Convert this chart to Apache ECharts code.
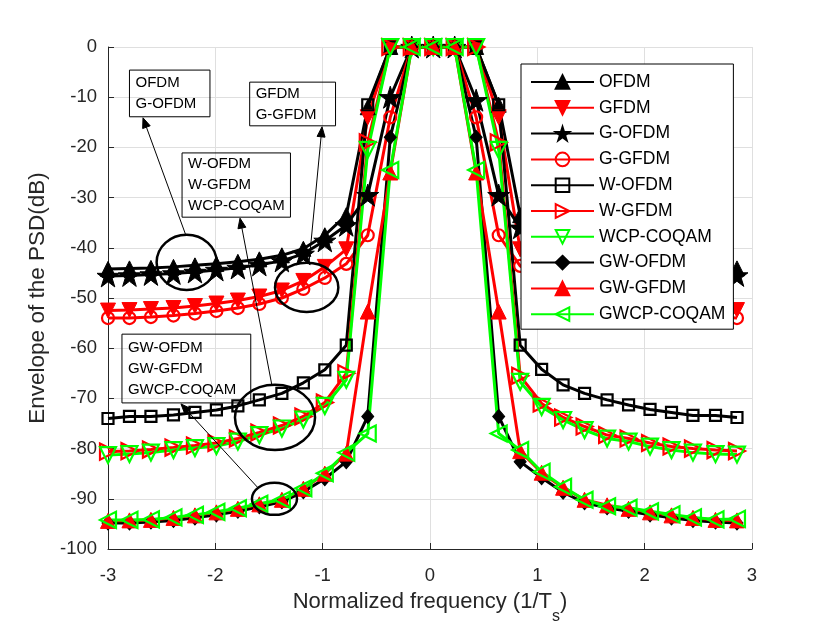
<!DOCTYPE html>
<html>
<head>
<meta charset="utf-8">
<title>PSD</title>
<script src="https://cdn.jsdelivr.net/npm/echarts@6/dist/echarts.min.js"></script>
<style type="text/css">
    html, body { margin: 0; padding: 0; background: #fff; }
    #psd { width: 830px; height: 623px; }
</style>
</head>
<body>
<div id="psd"></div>
<script type="text/javascript">
    // normalized frequency of every marker
    var freq = [-3.00, -2.80, -2.60, -2.39, -2.19, -1.99, -1.79, -1.59, -1.38, -1.18,
                -0.98, -0.78, -0.58, -0.37, -0.17, 0.03, 0.23, 0.43, 0.64, 0.84,
                1.04, 1.24, 1.44, 1.65, 1.85, 2.05, 2.25, 2.45, 2.66, 2.86];

    // PSD envelopes (dB)
    var ofdm = [-44.2, -44.1, -44.0, -43.8, -43.5, -43.2, -42.8, -42.3, -41.5, -40.2, -37.5, -33.5, -12, 0, 0,
                0, 0, 0, -11.5, -33.5, -37.5, -40.2, -41.5, -42.3, -42.8, -43.2, -43.5, -43.8, -44.0, -44.1];
    var gfdm = [-52.5, -52.4, -52.2, -52.0, -51.6, -51.1, -50.5, -49.7, -48.5, -46.6, -43.8, -40.3, -14, 0, 0,
                0, 0, 0, -14, -40.3, -43.8, -46.6, -48.5, -49.7, -50.5, -51.1, -51.6, -52.0, -52.2, -52.4];
    var gOfdm = [-45.6, -45.5, -45.3, -45.1, -44.8, -44.4, -44.0, -43.4, -42.6, -41.2, -38.6, -35.5, -29.5, -10, 0,
                 0, 0, -10.6, -29.5, -36, -38.6, -41.2, -42.6, -43.4, -44.0, -44.4, -44.8, -45.1, -45.3, -45.5];
    var gGfdm = [-54.0, -54.0, -53.8, -53.5, -53.1, -52.6, -52.0, -51.2, -50.0, -48.2, -46.0, -43.2, -37.5, -14, 0,
                 0, 0, -14, -37.5, -43.6, -46.0, -48.2, -50.0, -51.2, -52.0, -52.6, -53.1, -53.5, -53.8, -54.0];
    var wOfdm = [-74.0, -73.6, -73.6, -73.3, -72.8, -72.3, -71.5, -70.3, -69.0, -66.9, -64.3, -59.4, -11.5, 0, 0,
                 0, 0, 0, -11.5, -59.4, -64.2, -67.3, -69.0, -70.3, -71.3, -72.2, -72.8, -73.4, -73.4, -73.8];
    var wGfdm = [-80.6, -80.5, -80.2, -79.8, -79.4, -78.9, -78.0, -76.8, -75.4, -73.6, -70.8, -65.0, -19, 0, 0,
                 0, 0, 0, -19, -65.5, -71.0, -73.8, -75.6, -77.3, -78.0, -78.9, -79.6, -80.0, -80.3, -80.5];
    var wcpCoqam = [-81.3, -81.1, -80.8, -80.3, -79.9, -79.5, -78.6, -77.3, -76.0, -74.2, -71.5, -66.3, -20.5, 0, 0,
                    0, 0, 0, -20.5, -66.7, -71.7, -74.3, -76.3, -78.0, -78.6, -79.6, -80.3, -80.8, -81.1, -81.2];
    var gwOfdm = [-94.8, -94.8, -94.6, -94.3, -93.8, -93.2, -92.5, -91.6, -90.6, -88.6, -86.0, -82.6, -73.6, -18, 0,
                  0, 0, -18, -73.6, -82.6, -85.8, -88.7, -90.8, -91.8, -92.5, -93.2, -93.8, -94.3, -94.6, -94.8];
    var gwGfdm = [-94.4, -94.3, -94.2, -93.8, -93.3, -92.7, -92.0, -91.1, -90.2, -88.0, -85.0, -81.0, -52.7, -25, 0,
                  0, 0, -25, -52.7, -80.5, -84.8, -87.8, -90.2, -91.3, -92.0, -92.7, -93.3, -93.8, -94.2, -94.3];
    var gwcpCoqam = [-94.2, -94.2, -94.1, -93.7, -93.2, -92.6, -91.9, -91.0, -90.2, -87.9, -84.9, -80.8, -77, -24.5, 0,
                     0, 0, -24.5, -77, -80.3, -84.6, -87.6, -90.2, -91.5, -91.8, -92.5, -93.1, -93.7, -94.1, -94.0];

    var xTicks = [-3, -2, -1, 0, 1, 2, 3];
    var yTicks = [-100, -90, -80, -70, -60, -50, -40, -30, -20, -10, 0];

    // text boxes, ellipses and arrows of the annotation (data units)
    var noteBoxes = [
        { x0: -2.80, x1: -2.05, y0: -4.6, y1: -13.9, lines: ['OFDM', 'G-OFDM'] },
        { x0: -1.68, x1: -0.88, y0: -7.0, y1: -15.7, lines: ['GFDM', 'G-GFDM'] },
        { x0: -2.31, x1: -1.30, y0: -21.1, y1: -33.9, lines: ['W-OFDM', 'W-GFDM', 'WCP-COQAM'] },
        { x0: -2.87, x1: -1.67, y0: -57.2, y1: -70.9, lines: ['GW-OFDM', 'GW-GFDM', 'GWCP-COQAM'] }
    ];
    var noteRings = [
        { x: -2.267, y: -42.9, rx: 0.28, ry: 5.5 },
        { x: -1.149, y: -47.9, rx: 0.295, ry: 4.9 },
        { x: -1.444, y: -73.8, rx: 0.373, ry: 6.5 },
        { x: -1.449, y: -90.0, rx: 0.21, ry: 3.2 }
    ];
    var noteArrows = [
        { from: [-2.273, -37.6], to: [-2.674, -14.1] },
        { from: [-1.127, -43.0], to: [-1.006, -15.9] },
        { from: [-1.472, -67.5], to: [-1.770, -34.1] },
        { from: [-1.603, -87.8], to: [-2.320, -71.1] }
    ];

    var fontFam = 'Liberation Sans, Arial, Helvetica, sans-serif';
    var axisInk = '#262626';
    var starPath = 'path://M50,2 L61.8,38.2 L99.9,38.2 L69.1,60.6 L80.9,96.8 L50,74.5 L19.1,96.8 L30.9,60.6 L0.1,38.2 L38.2,38.2 Z';

    function curve(name, vals, color, symbol, size, rotate, hollow) {
        return {
            name: name,
            type: 'line',
            data: freq.map(function (f, i) { return [f, vals[i]]; }),
            symbol: symbol,
            symbolSize: size,
            symbolRotate: rotate,
            showAllSymbol: true,
            clip: false,
            lineStyle: { color: color, width: 3 },
            itemStyle: hollow
                ? { color: 'transparent', borderColor: color, borderWidth: 2.2 }
                : { color: color, borderColor: color, borderWidth: 1 },
            emphasis: { disabled: true }
        };
    }

    var myChart = echarts.init(document.getElementById('psd'));

    var option = {
        animation: false,
        backgroundColor: '#fff',
        grid: { left: 108, right: 78, top: 47, bottom: 74, containLabel: false, outerBoundsMode: 'none' },
        xAxis: {
            type: 'value',
            min: xTicks[0],
            max: xTicks[xTicks.length - 1],
            interval: 1,
            name: 'Normalized frequency (1/T{s|s})',
            nameLocation: 'middle',
            nameGap: 30,
            nameTextStyle: {
                fontSize: 22, color: axisInk, fontFamily: fontFam,
                rich: { s: { fontSize: 16, color: axisInk, fontFamily: fontFam, padding: [30, 0, 0, 0] } }
            },
            axisLine: { onZero: false, lineStyle: { color: axisInk, width: 1 } },
            axisTick: { inside: true, length: 6, lineStyle: { color: axisInk } },
            axisLabel: { fontSize: 18.5, color: axisInk, fontFamily: fontFam, margin: 17 },
            splitLine: { show: true, lineStyle: { color: '#dfdfdf', width: 1 } }
        },
        yAxis: {
            type: 'value',
            min: yTicks[0],
            max: yTicks[yTicks.length - 1],
            interval: 10,
            name: 'Envelope of the PSD(dB)',
            nameLocation: 'middle',
            nameGap: 57,
            nameTextStyle: { fontSize: 22.5, color: axisInk, fontFamily: fontFam },
            axisLine: { show: true, onZero: false, lineStyle: { color: axisInk, width: 1 } },
            axisTick: { show: true, inside: true, length: 6, lineStyle: { color: axisInk } },
            axisLabel: { fontSize: 18.5, color: axisInk, fontFamily: fontFam, margin: 11 },
            splitLine: { show: true, lineStyle: { color: '#dfdfdf', width: 1 } }
        },
        legend: {
            orient: 'vertical',
            left: 521,
            top: 64,
            itemWidth: 63,
            itemHeight: 17,
            itemGap: 7.8,
            padding: [9, 8, 6, 9],
            borderColor: '#000',
            borderWidth: 1,
            backgroundColor: '#fff',
            selectedMode: false,
            textStyle: { fontSize: 17.5, color: '#000', fontFamily: fontFam }
        },
        series: [
            curve('OFDM', ofdm, '#000000', 'triangle', 15, 0, false),
            curve('GFDM', gfdm, '#ff0000', 'triangle', 15, 180, false),
            curve('G-OFDM', gOfdm, '#000000', starPath, 22, 0, false),
            curve('G-GFDM', gGfdm, '#ff0000', 'circle', 12, 0, true),
            curve('W-OFDM', wOfdm, '#000000', 'rect', 11, 0, true),
            curve('W-GFDM', wGfdm, '#ff0000', 'triangle', 16, -90, true),
            curve('WCP-COQAM', wcpCoqam, '#00ff00', 'triangle', 16, 180, true),
            curve('GW-OFDM', gwOfdm, '#000000', 'diamond', [12, 14], 0, false),
            curve('GW-GFDM', gwGfdm, '#ff0000', 'triangle', 15, 0, false),
            curve('GWCP-COQAM', gwcpCoqam, '#00ff00', 'triangle', 16, 90, true)
        ]
    };
    myChart.setOption(option);

    // annotation layer, placed through the axes
    function px(x, y) { return myChart.convertToPixel({ gridIndex: 0 }, [x, y]); }

    var notes = [];
    noteBoxes.forEach(function (b) {
        var p0 = px(b.x0, b.y0), p1 = px(b.x1, b.y1);
        notes.push({
            type: 'rect', z: 50, silent: true,
            shape: { x: p0[0], y: p0[1], width: p1[0] - p0[0], height: p1[1] - p0[1] },
            style: { fill: 'none', stroke: '#000', lineWidth: 1 }
        });
        notes.push({
            type: 'text', z: 51, silent: true,
            x: p0[0] + 6, y: (p0[1] + p1[1]) / 2,
            style: {
                text: b.lines.join('\n'), fill: '#000', fontSize: 15, fontFamily: fontFam,
                lineHeight: 21, align: 'left', verticalAlign: 'middle'
            }
        });
    });
    noteRings.forEach(function (r) {
        var c = px(r.x, r.y), e = px(r.x + r.rx, r.y - r.ry);
        notes.push({
            type: 'ellipse', z: 50, silent: true,
            shape: { cx: c[0], cy: c[1], rx: e[0] - c[0], ry: e[1] - c[1] },
            style: { fill: 'none', stroke: '#000', lineWidth: 2.5 }
        });
    });
    noteArrows.forEach(function (a) {
        var p = px(a.from[0], a.from[1]), q = px(a.to[0], a.to[1]);
        var dx = q[0] - p[0], dy = q[1] - p[1], L = Math.sqrt(dx * dx + dy * dy);
        var ux = dx / L, uy = dy / L, hl = 10, hw = 4;
        var bx = q[0] - ux * hl, by = q[1] - uy * hl;
        notes.push({
            type: 'line', z: 50, silent: true,
            shape: { x1: p[0], y1: p[1], x2: bx, y2: by },
            style: { stroke: '#000', lineWidth: 1 }
        });
        notes.push({
            type: 'polygon', z: 50, silent: true,
            shape: { points: [[q[0], q[1]], [bx - uy * hw, by + ux * hw], [bx + uy * hw, by - ux * hw]] },
            style: { fill: '#000', stroke: '#000', lineWidth: 1 }
        });
    });
    myChart.setOption({ graphic: notes });
</script>
</body>
</html>
